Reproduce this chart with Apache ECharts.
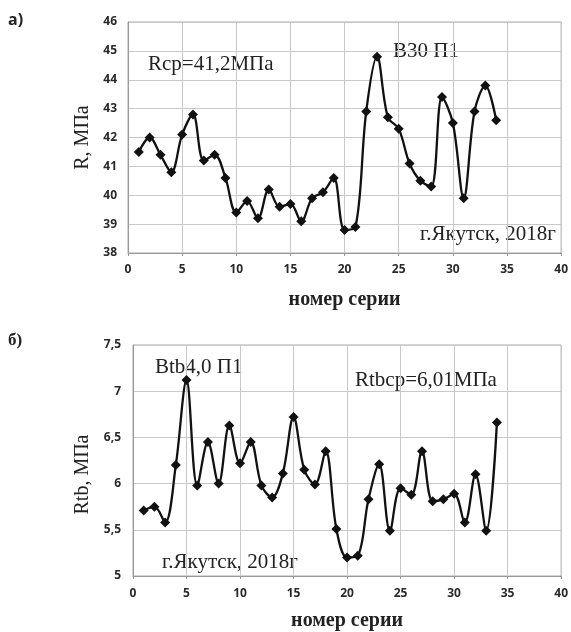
<!DOCTYPE html>
<html><head><meta charset="utf-8">
<script src="https://cdn.jsdelivr.net/npm/echarts@6/dist/echarts.min.js"></script>
<style>html,body{margin:0;padding:0;background:#fff}#c{width:571px;height:632px}</style>
</head><body><div id="c"></div>
<script>
const seriesNo = [1,2,3,4,5,6,7,8,9,10,11,12,13,14,15,16,17,18,19,20,21,22,23,24,25,26,27,28,29,30,31,32,33,34];
const rValues = [41.5,42.0,41.4,40.8,42.1,42.8,41.2,41.4,40.6,39.4,39.8,39.2,40.2,39.6,39.7,39.1,39.9,40.1,40.6,38.8,38.9,42.9,44.8,42.7,42.3,41.1,40.5,40.3,43.4,42.5,39.9,42.9,43.8,42.6];
const rtbValues = [5.71,5.75,5.58,6.2,7.12,5.98,6.45,6.0,6.63,6.22,6.45,5.98,5.85,6.11,6.72,6.15,5.99,6.35,5.51,5.20,5.22,5.83,6.21,5.49,5.95,5.88,6.35,5.81,5.83,5.89,5.58,6.10,5.49,6.66];
const topTicks = {min:38, max:46, step:1};
const botTicks = {min:5, max:7.5, step:0.5};
const xTicks = {min:0, max:40, step:5};

const serif = '"Liberation Serif", "DejaVu Serif", serif';
const sans = '"Open Sans", "Liberation Sans", Arial, sans-serif';
const pair = (xs, ys) => xs.map((x,i)=>[x, ys[i]]);
const axisLbl = {color:'#2a2a2a', fontFamily: sans, fontSize: 12, fontWeight: 'bold'};
const gridLine = {show:true, lineStyle:{color:'#c8c8c8', width:1}};

function xAxis(gi, margin, gap){
  return {type:'value', gridIndex:gi, min:xTicks.min, max:xTicks.max, interval:xTicks.step,
    axisLine:{show:true, lineStyle:{color:'#999'}}, axisTick:{show:true, length:3, lineStyle:{color:'#999'}},
    axisLabel:Object.assign({margin:margin}, axisLbl), splitLine:gridLine,
    name:'номер серии', nameLocation:'middle', nameGap:gap,
    nameTextStyle:{fontFamily:serif, fontSize:20, fontWeight:'bold', color:'#222'}};
}
function yAxis(gi, t, name, margin, gap, fmt, pad){
  return {type:'value', gridIndex:gi, min:t.min, max:t.max, interval:t.step,
    axisLine:{show:true, lineStyle:{color:'#999'}}, axisTick:{show:false},
    axisLabel:Object.assign({margin:margin, formatter: fmt}, axisLbl), splitLine:gridLine,
    name:name, nameLocation:'middle', nameGap:gap,
    nameTextStyle:{fontFamily:serif, fontSize:20, color:'#222', padding:pad}};
}
const lineSeries = (gi, data) => ({type:'line', xAxisIndex:gi, yAxisIndex:gi, data:data, smooth:0.35,
  symbol:'diamond', symbolSize:10, lineStyle:{color:'#111', width:2.3}, itemStyle:{color:'#111'}});

const ann = (x, y, t) => ({type:'text', left:x, top:y, style:{text:t, font:'21px '+serif, fill:'#222'}});

const chart = echarts.init(document.getElementById('c'), null, {renderer:'canvas'});
chart.setOption({
  animation:false,
  grid:[
    {left:128, right:8, top:22, height:231, show:true, borderColor:'#aaa', borderWidth:1},
    {left:133, right:4, top:345, height:232, show:true, borderColor:'#aaa', borderWidth:1}
  ],
  xAxis:[xAxis(0, 11, 37), xAxis(1, 12, 35)],
  yAxis:[
    yAxis(0, topTicks, 'R, МПа', 11, 33, v=>String(v), 0),
    yAxis(1, botTicks, 'Rtb, МПа', 12, 36, v=>String(v).replace('.',','), [0, 28, 0, 0])
  ],
  series:[lineSeries(0, pair(seriesNo, rValues)), lineSeries(1, pair(seriesNo, rtbValues))],
  graphic:[
    {type:'text', left:8, top:12, style:{text:'а)', font:'bold 16px '+sans, fill:'#222'}},
    {type:'text', left:8, top:332, style:{text:'б)', font:'bold 17px '+serif, fill:'#222'}},
    ann(148, 54, 'Rср=41,2МПа'),
    ann(393, 41, 'В30 П1'),
    ann(420, 224, 'г.Якутск, 2018г'),
    ann(155, 357, 'Btb4,0 П1'),
    ann(355, 370, 'Rtbср=6,01МПа'),
    ann(162, 552, 'г.Якутск, 2018г')
  ]
});
</script></body></html>
